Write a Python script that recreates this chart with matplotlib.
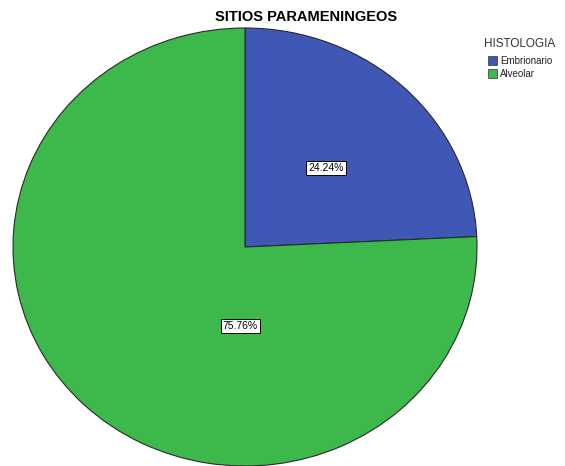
import matplotlib
matplotlib.use("Agg")
import matplotlib.pyplot as plt
from matplotlib.patches import Rectangle

plt.rcParams['font.family'] = ['Liberation Sans', 'DejaVu Sans']

categories = ["Embrionario", "Alveolar"]
values = [24.24, 75.76]
colors = ["#3f57b5", "#3cb94a"]
title = "SITIOS PARAMENINGEOS"
legend_title = "HISTOLOGIA"
label_pos = [(0.35, 0.36), (-0.02, -0.36)]

fig = plt.figure(figsize=(5.65, 4.66), dpi=100)
ax = fig.add_axes([13/565, 0.0, 464/565, 438/466])
wedges, _ = ax.pie(values, colors=colors, startangle=90, counterclock=False,
                   wedgeprops=dict(edgecolor="#2a2a2a", linewidth=0.8))
ax.set_aspect('auto')
ax.set_xlim(-1, 1)
ax.set_ylim(-1, 1)
ax.axis('off')

for v, (x, y) in zip(values, label_pos):
    ax.text(x, y, f"{v:.2f}%", ha='center', va='center', fontsize=7.5,
            bbox=dict(boxstyle='square,pad=0.2', fc='white', ec='black', lw=0.7))

fig.text(306/565, 1 - 17/466, title, ha='center', va='center', fontsize=10.5, fontweight='bold')

fig.text(484/565, 1 - 44/466, legend_title, ha='left', va='center', fontsize=8.5, color='#333333')
for i, (c, lab) in enumerate(zip(colors, categories)):
    yc = 61 + 13 * i
    fig.patches.append(Rectangle((488/565, 1 - (yc + 4)/466), 9/565, 9/466,
                                 transform=fig.transFigure, fc=c, ec='#333333', lw=0.5))
    fig.text(500/565, 1 - yc/466, lab, ha='left', va='center', fontsize=7, color='#222222')

fig.savefig("out.png", dpi=100)
